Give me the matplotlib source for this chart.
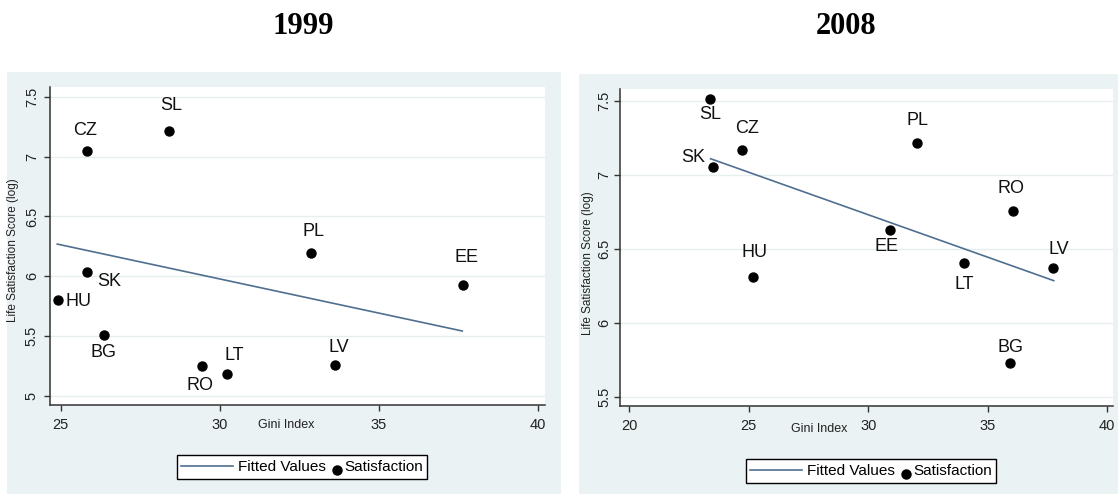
import matplotlib
matplotlib.use("Agg")
import numpy as np
import matplotlib.pyplot as plt
from matplotlib.lines import Line2D
from matplotlib.patches import Rectangle
from matplotlib.legend_handler import HandlerLine2D

# ---- data ----
countries_99 = ["SL", "CZ", "PL", "EE", "SK", "HU", "BG", "RO", "LT", "LV"]
gini_99 = [28.41, 25.81, 32.86, 37.65, 25.83, 24.92, 26.37, 29.43, 30.23, 33.62]
sat_99 = [7.216, 7.049, 6.197, 5.927, 6.038, 5.802, 5.507, 5.250, 5.184, 5.259]
fit_x_99 = [24.89, 37.62]
fit_y_99 = [6.269, 5.543]

countries_08 = ["SL", "CZ", "SK", "PL", "RO", "EE", "LV", "LT", "HU", "BG"]
gini_08 = [23.37, 24.71, 23.52, 32.03, 36.04, 30.89, 37.73, 34.00, 25.19, 35.93]
sat_08 = [7.509, 7.164, 7.052, 7.214, 6.757, 6.624, 6.367, 6.405, 6.311, 5.730]
fit_x_08 = [23.40, 37.76]
fit_y_08 = [7.108, 6.284]

xticks_99 = [25, 30, 35, 40]
yticks_99 = [5, 5.5, 6, 6.5, 7, 7.5]
xticks_08 = [20, 25, 30, 35, 40]
yticks_08 = [5.5, 6, 6.5, 7, 7.5]

# label offsets (pixels) for each marker label
offs_99 = [(2, 25), (-1, 20), (3, 21), (3, 28), (22, -10), (20, -2),
           (-1, -17), (-2, -19), (7, 18), (4, 18)]
offs_08 = [(0, -15), (5, 22), (-20, 9), (1, 23), (-2, 22), (-3, -16),
           (6, 19), (0, -22), (1, 24), (0, 15)]

W, H = 1118, 494
BG = "#eaf2f3"
GRID = "#e6eeef"
FIT = "#4f6f8f"
AXC = "#333333"
SANS = ["Liberation Sans", "DejaVu Sans"]

plt.rcParams["font.family"] = SANS


class MarkerAtRight(HandlerLine2D):
    # stata puts the legend marker hard against its label, slightly low
    def get_xdata(self, legend, xdescent, ydescent, width, height, fontsize):
        x1 = width - xdescent + 3
        return np.array([x1 - 10.0, x1]), np.array([x1 - 5.0])

    def create_artists(self, legend, orig_handle, xdescent, ydescent,
                       width, height, fontsize, trans):
        arts = super().create_artists(legend, orig_handle, xdescent, ydescent,
                                      width, height, fontsize, trans)
        for a in arts:
            a.set_ydata(np.asarray(a.get_ydata(), float) - 3)
        return arts


fig = plt.figure(figsize=(W / 100, H / 100), dpi=100)
fig.patch.set_facecolor("white")


def px_rect(x0, y0, x1, y1):
    return [x0 / W, 1 - y1 / H, (x1 - x0) / W, (y1 - y0) / H]


def panel(outer, axbox, xlim, ylim, xt, yt, gx, gy, fx, fy, names, offs,
          title, title_x, xlab_xy, ylab_xy, leg_xy, ypad):
    ox0, oy0, ox1, oy1 = outer
    fig.patches.append(Rectangle((ox0 / W, 1 - oy1 / H), (ox1 - ox0) / W,
                                 (oy1 - oy0) / H, transform=fig.transFigure,
                                 facecolor=BG, edgecolor="none", zorder=-5))
    ax = fig.add_axes(px_rect(*axbox))
    ax.set_zorder(2)
    ax.set_facecolor("white")
    ax.set_xlim(*xlim)
    ax.set_ylim(*ylim)
    ax.set_xticks(xt)
    ax.set_yticks(yt)
    ax.set_xticklabels([f"{v:g}" for v in xt])
    ax.set_yticklabels([f"{v:g}" for v in yt])
    for s in ["top", "right"]:
        ax.spines[s].set_visible(False)
    for s in ["left", "bottom"]:
        ax.spines[s].set_color(AXC)
        ax.spines[s].set_linewidth(1.1)
    ax.tick_params(axis="both", direction="out", length=4, width=1,
                   color=AXC, labelsize=10.5, labelcolor="#222222")
    ax.tick_params(axis="x", pad=5)
    ax.tick_params(axis="y", pad=ypad, labelrotation=90)
    for lab in ax.get_yticklabels():
        lab.set_va("center")
    for v in yt:
        ax.axhline(v, color=GRID, lw=1, zorder=1)

    ax.plot(fx, fy, color=FIT, lw=1.2, zorder=2)
    ax.scatter(gx, gy, s=42, color="black", zorder=3)
    for n, x, y, (dx, dy) in zip(names, gx, gy, offs):
        ax.annotate(n, (x, y), xytext=(dx, dy), textcoords="offset pixels",
                    ha="center", va="center", fontsize=13, color="#111111")

    fig.text(title_x / W, 1 - 27 / H, title, ha="center", va="center",
             fontsize=22, fontweight="bold", family="Liberation Serif")
    fig.text(xlab_xy[0] / W, 1 - xlab_xy[1] / H, "Gini Index", ha="center",
             va="center", fontsize=9, color="#222222", zorder=3)
    fig.text(ylab_xy[0] / W, 1 - ylab_xy[1] / H,
             "Life Satisfaction Score (log)", ha="center", va="center",
             rotation=90, fontsize=8.5, color="#222222", zorder=3)

    h_line = Line2D([], [], color=FIT, lw=1.2)
    h_dot = Line2D([], [], color="black", marker="o", ls="none", ms=6.5)
    leg = fig.legend([h_line, h_dot], ["Fitted Values", "Satisfaction"],
                     ncol=2, loc="center",
                     bbox_to_anchor=(leg_xy[0] / W, 1 - leg_xy[1] / H),
                     handler_map={h_dot: MarkerAtRight(numpoints=1)},
                     frameon=True, fancybox=False, fontsize=11,
                     handlelength=3.4, handletextpad=0.3, columnspacing=-2.5,
                     borderpad=0.3, borderaxespad=0)
    leg.set_zorder(4)
    fr = leg.get_frame()
    fr.set_edgecolor("black")
    fr.set_linewidth(1.0)
    fr.set_alpha(1)
    return ax


panel((7, 72, 561, 494), (50, 87, 545, 405), (24.66, 40.22), (4.925, 7.581),
      xticks_99, yticks_99, gini_99, sat_99, fit_x_99, fit_y_99,
      countries_99, offs_99, "1999", 303, (286, 425), (13, 250), (302, 467), 4)

panel((579, 74, 1118, 494), (620, 89, 1113, 406), (19.61, 40.24), (5.437, 7.579),
      xticks_08, yticks_08, gini_08, sat_08, fit_x_08, fit_y_08,
      countries_08, offs_08, "2008", 846, (819, 429), (588, 263), (871, 471), 2)

fig.savefig("out.png", dpi=100)
